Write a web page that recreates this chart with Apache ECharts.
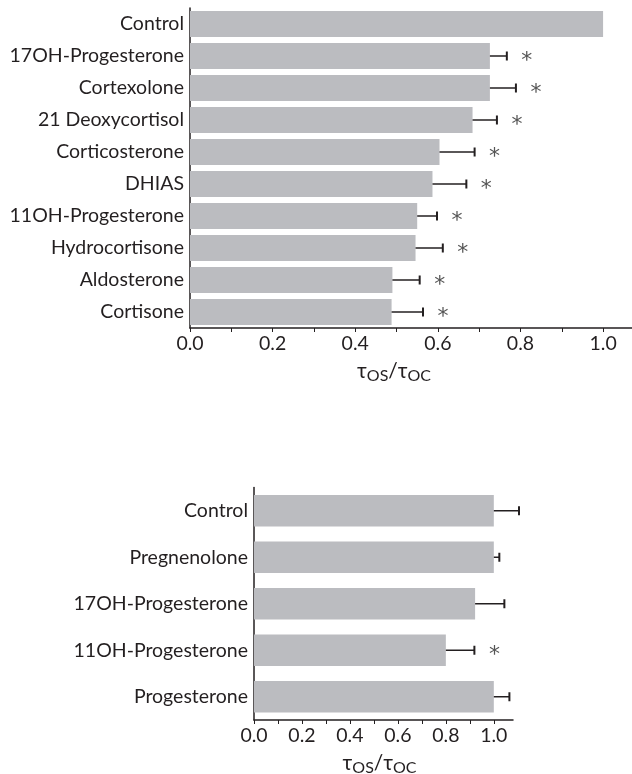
<!DOCTYPE html>
<html><head><meta charset="utf-8">
<script src="https://cdn.jsdelivr.net/npm/echarts@6/dist/echarts.min.js"></script>
<style>html,body{margin:0;padding:0;background:#fff}#c{width:632px;height:774px}</style>
</head><body><div id="c"></div>
<script>
// Top panel
const catsA = ['Control','17OH-Progesterone','Cortexolone','21 Deoxycortisol','Corticosterone','DHIAS','11OH-Progesterone','Hydrocortisone','Aldosterone','Cortisone'];
const valsA = [1.0, 0.726, 0.726, 0.684, 0.604, 0.587, 0.550, 0.546, 0.490, 0.488];
const errA  = [null, 0.767, 0.789, 0.743, 0.689, 0.669, 0.598, 0.612, 0.556, 0.564];
const sigA  = [0, 1, 1, 1, 1, 1, 1, 1, 1, 1];
// Bottom panel
const catsB = ['Control','Pregnenolone','17OH-Progesterone','11OH-Progesterone','Progesterone'];
const valsB = [1.0, 1.0, 0.922, 0.800, 1.0];
const errB  = [1.105, 1.023, 1.044, 0.919, 1.065];
const sigB  = [0, 0, 0, 1, 0];
const tickVals = [0,0.1,0.2,0.3,0.4,0.5,0.6,0.7,0.8,0.9,1.0];
const tickLabels = [0,0.2,0.4,0.6,0.8,1.0];

const FONT = 'Lato, "Open Sans", "DejaVu Sans", sans-serif';
const TXT = '#231f20';
const BAR = '#bbbcc0';

function errRender(params, api) {
  const cat = api.value(0), v = api.value(1), e = api.value(2), s = api.value(3);
  const children = [];
  if (!isNaN(e) && e !== null) {
    const p0 = api.coord([v, cat]), p1 = api.coord([e, cat]);
    children.push({type:'line', shape:{x1:p0[0], y1:p0[1], x2:p1[0], y2:p1[1]}, style:{stroke:TXT, lineWidth:1.5}});
    children.push({type:'line', shape:{x1:p1[0], y1:p1[1]-4.5, x2:p1[0], y2:p1[1]+4.5}, style:{stroke:TXT, lineWidth:2}});
    if (s === 1) {
      children.push({type:'text', style:{text:'*', x:p1[0]+20, y:p1[1]+5, fill:'#555', font:'22px "DejaVu Sans"', align:'center', verticalAlign:'middle'}});
    }
  }
  return {type:'group', children};
}

function mk(cats, vals, err, sig) {
  return cats.map((c,i)=>[i, vals[i], err[i] === null ? NaN : err[i], sig[i]]);
}

function xAx(gi, max, titlePad) {
  return {
    type:'value', gridIndex:gi, min:0, max:max, interval:0.1,
    splitLine:{show:false},
    axisLine:{show:true, onZero:false, lineStyle:{color:TXT, width:1.5}},
    axisTick:{show:true, customValues:tickVals, length:4, lineStyle:{color:TXT}},
    axisLabel:{customValues:tickLabels, formatter:v=>v.toFixed(1), color:TXT, fontFamily:FONT, fontSize:19.5, margin:6},
    name:'{t|τ}{s|OS}{t|/τ}{s|OC}', nameLocation:'middle', nameGap:31,
    nameTextStyle:{padding:titlePad, rich:{t:{fontSize:21, color:TXT, fontFamily:FONT}, s:{fontSize:16, color:TXT, fontFamily:FONT, padding:[9,0,0,0]}}}
  };
}
function yAx(gi, labels) {
  return {
    type:'category', gridIndex:gi, data:labels, inverse:true,
    axisLine:{show:true, lineStyle:{color:TXT, width:1.5}},
    axisTick:{show:false},
    axisLabel:{color:TXT, fontFamily:FONT, fontSize:19.5, margin:6}
  };
}

const chart = echarts.init(document.getElementById('c'));
chart.setOption({
  animation:false,
  grid:[
    {left:190, top:8, width:442, height:320, outerBoundsMode:'none', containLabel:false},
    {left:254, top:487.5, width:259, height:232.5, outerBoundsMode:'none', containLabel:false}
  ],
  xAxis:[xAx(0, 1.07, [0,34,0,0]), xAx(1, 1.08, [0,8,0,0])],
  yAxis:[yAx(0, catsA), yAx(1, catsB)],
  series:[
    {type:'bar', xAxisIndex:0, yAxisIndex:0, data:valsA, itemStyle:{color:BAR}, barCategoryGap:'18%'},
    {type:'custom', xAxisIndex:0, yAxisIndex:0, data:mk(catsA, valsA, errA, sigA), encode:{x:[1,2], y:0}, renderItem:errRender, clip:false, z:3},
    {type:'bar', xAxisIndex:1, yAxisIndex:1, data:valsB, itemStyle:{color:BAR}, barCategoryGap:'32%'},
    {type:'custom', xAxisIndex:1, yAxisIndex:1, data:mk(catsB, valsB, errB, sigB), encode:{x:[1,2], y:0}, renderItem:errRender, clip:false, z:3}
  ]
});
</script></body></html>
